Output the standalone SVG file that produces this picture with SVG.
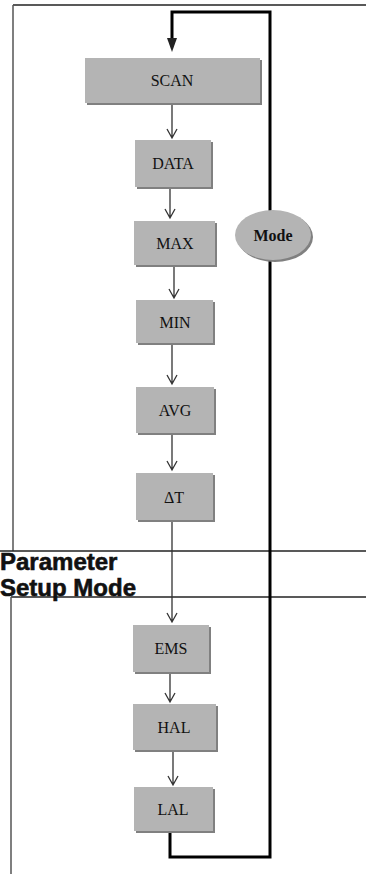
<svg xmlns="http://www.w3.org/2000/svg" width="366" height="874" viewBox="0 0 366 874">
<defs>
<style>
.box{fill:#b4b4b4}
.sh{fill:#808080}
.lbl{font-family:"Liberation Serif","Times New Roman",serif;font-size:16px;fill:#111;text-anchor:middle}
.frame{stroke:#222;stroke-width:1.5;fill:none}
.fl{stroke:#555;stroke-width:1.5;fill:none}
.loop{stroke:#000;stroke-width:3;fill:none}
.ln{stroke:#333;stroke-width:1.3;fill:none}
.big{font-family:"Liberation Sans",Arial,sans-serif;font-weight:bold;font-size:24px;fill:#111;stroke:#111;stroke-width:0.6}
</style>
</defs>
<rect width="366" height="874" fill="#fff"/>
<g id="frame">
<path class="frame" d="M13,5 H366"/>
<path class="fl" d="M13,5 V551"/>
<path class="frame" d="M0,551 H366"/>
<path class="frame" d="M11,597 H366"/>
<path class="fl" d="M11,597 V874"/>
<text class="big" x="0" y="570">Parameter</text>
<text class="big" x="0" y="596">Setup Mode</text>
</g>
<g id="connectors">
<path class="loop" d="M170,831 V857 H270 V12 H172 V38"/>
<path d="M167,38 L177,38 L172,52 Z" fill="#222"/>
<path class="ln" d="M172,103 V138 M167,129 L172,138 L177,129"/>
<path class="ln" d="M170,188 V218 M165,209 L170,218 L175,209"/>
<path class="ln" d="M174,265 V298 M169,289 L174,298 L179,289"/>
<path class="ln" d="M172,343 V384 M167,375 L172,384 L177,375"/>
<path class="ln" d="M172,433 V470 M167,461 L172,470 L177,461"/>
<path class="ln" d="M172,520 V622 M167,613 L172,622 L177,613"/>
<path class="ln" d="M170,672 V702 M165,693 L170,702 L175,693"/>
<path class="ln" d="M173,750 V785 M168,776 L173,785 L178,776"/>
</g>
<g id="scan"><rect class="sh" x="87" y="60" width="175" height="45"/><rect class="box" x="85" y="58" width="175" height="45"/><text class="lbl" x="172" y="86">SCAN</text></g>
<g id="data"><rect class="sh" x="137" y="142" width="76" height="47"/><rect class="box" x="135" y="140" width="76" height="47"/><text class="lbl" x="173" y="169">DATA</text></g>
<g id="max"><rect class="sh" x="136" y="223" width="81" height="44"/><rect class="box" x="134" y="221" width="81" height="44"/><text class="lbl" x="175" y="249">MAX</text></g>
<g id="min"><rect class="sh" x="138" y="302" width="77" height="43"/><rect class="box" x="136" y="300" width="77" height="43"/><text class="lbl" x="175" y="328">MIN</text></g>
<g id="avg"><rect class="sh" x="138" y="389" width="78" height="46"/><rect class="box" x="136" y="387" width="78" height="46"/><text class="lbl" x="175" y="416">AVG</text></g>
<g id="dt"><rect class="sh" x="138" y="475" width="77" height="47"/><rect class="box" x="136" y="473" width="77" height="47"/><text class="lbl" x="174" y="503">ΔT</text></g>
<g id="ems"><rect class="sh" x="135" y="627" width="76" height="47"/><rect class="box" x="133" y="625" width="76" height="47"/><text class="lbl" x="171" y="654">EMS</text></g>
<g id="hal"><rect class="sh" x="135" y="706" width="83" height="46"/><rect class="box" x="133" y="704" width="83" height="46"/><text class="lbl" x="174" y="733">HAL</text></g>
<g id="lal"><rect class="sh" x="136" y="789" width="79" height="44"/><rect class="box" x="134" y="787" width="79" height="44"/><text class="lbl" x="173" y="815">LAL</text></g>
<g id="mode"><ellipse cx="275" cy="237" rx="38" ry="25" fill="#808080"/><ellipse cx="273" cy="235" rx="38" ry="25" fill="#b4b4b4"/><text x="273" y="241" font-family="'Liberation Serif','Times New Roman',serif" font-weight="bold" font-size="16" text-anchor="middle" fill="#111">Mode</text></g>
</svg>
